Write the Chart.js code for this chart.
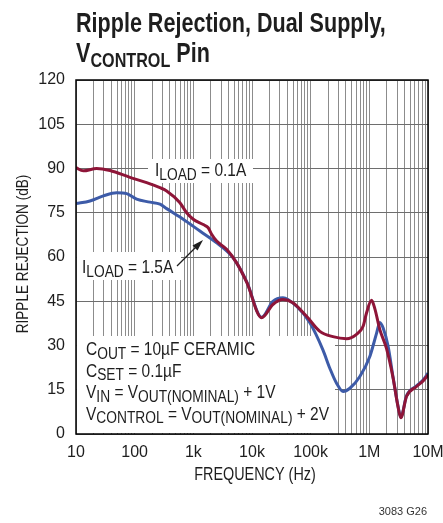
<!DOCTYPE html>
<html>
<head>
<meta charset="utf-8">
<title>Ripple Rejection, Dual Supply, VCONTROL Pin</title>
<script src="https://cdn.jsdelivr.net/npm/chart.js@4.4.1/dist/chart.umd.min.js"></script>
<style>
  html, body { margin: 0; padding: 0; background: #fff; }
  canvas { display: block; }
</style>
</head>
<body>
<canvas id="ripple" width="443" height="523"></canvas>
<script>
// I_LOAD = 0.1A
const freq01 = [10, 13.3, 22.5, 38, 83, 160, 270, 351, 591, 769, 996, 1475, 1795, 2050, 2496, 3692, 5470, 8180,
  14580, 22700, 33600, 49700, 85200, 143500, 239000, 409000, 605000, 783000, 895000, 1090000, 1240000,
  1510000, 1960000, 2540000, 3100000, 3440000, 4300000, 6370000, 8260000, 10000000]
const db01 = [90.3, 89.2, 90.0, 89.3, 87.0, 85.2, 83.5, 82.4, 78.4, 75.0, 72.8, 71.0, 69.9, 67.7, 65.4, 62.6, 58.0, 51.3,
  39.4, 43.9, 45.6, 44.5, 39.9, 34.8, 33.0, 32.3, 33.8, 36.5, 41.0, 45.3, 42.5,
  35.4, 29.0, 19.0, 9.0, 5.5, 12.7, 16.1, 18.0, 20.0]

// I_LOAD = 1.5A
const freq15 = [10, 17.3, 29.2, 49.3, 73, 108, 182, 270, 351, 673, 1294, 2496, 4200, 5470, 8180,
  14580, 22700, 33600, 57500, 96900, 161000, 212000, 276000, 358000, 466000, 689000, 1020000, 1330000,
  1510000, 1720000, 2090000, 2540000, 3100000, 3440000, 4300000, 6370000, 8260000, 10000000]
const db15 = [78.1, 79.0, 80.7, 81.8, 81.5, 79.6, 78.6, 77.9, 76.4, 72.8, 68.8, 64.8, 61.0, 58.0, 51.5,
  39.6, 45.0, 46.2, 43.3, 37.7, 28.6, 22.3, 17.2, 14.4, 15.5, 19.5, 26.3, 34.2,
  37.8, 35.9, 29.7, 19.2, 9.2, 5.7, 12.9, 16.3, 18.3, 20.6]

// axis ticks
const yTicks = [0, 15, 30, 45, 60, 75, 90, 105, 120]
const decades = [10, 100, 1e3, 1e4, 1e5, 1e6, 1e7]
const decadeLabels = ["10", "100", "1k", "10k", "100k", "1M", "10M"]

const FONT = '"Liberation Sans", Arial, sans-serif'
const RED = "#8e1538"
const BLUE = "#3d5ba8"
const INK = "#1e1e1e"

const toPoints = (xs, ys) => xs.map((x, i) => ({ x: x, y: ys[i] }))

// condensed text with subscript runs: parts = [[text, isSub], ...]
function drawRich(ctx, x, y, parts, size, subSize, sx, bold) {
  const weight = bold ? "bold " : ""
  ctx.save()
  ctx.translate(x, y)
  ctx.scale(sx, 1)
  let cx = 0
  parts.forEach(([txt, isSub]) => {
    ctx.font = weight + (isSub ? subSize : size) + "px " + FONT
    ctx.fillText(txt, cx, isSub ? subSize * 0.22 : 0)
    cx += ctx.measureText(txt).width
  })
  ctx.restore()
}

const notes = {
  id: "notes",
  beforeDatasetsDraw(chart) {
    // white panels behind the labels hide the grid
    const ctx = chart.ctx
    ctx.save()
    ctx.fillStyle = "#fff"
    ctx.fillRect(148, 159, 105, 24)
    ctx.fillRect(77, 252, 104, 28)
    ctx.fillRect(77, 336, 258, 97)
    ctx.restore()
  },
  afterDatasetsDraw(chart) {
    const ctx = chart.ctx
    const a = chart.chartArea
    ctx.save()
    ctx.strokeStyle = "#000"
    ctx.lineWidth = 1.5
    ctx.strokeRect(a.left, a.top, a.right - a.left, a.bottom - a.top)

    ctx.fillStyle = INK
    ctx.strokeStyle = INK
    ctx.textBaseline = "alphabetic"
    ctx.textAlign = "left"
    drawRich(ctx, 155, 176, [["I"], ["LOAD", true], [" = 0.1A"]], 18, 16, 0.86)
    drawRich(ctx, 82, 273, [["I"], ["LOAD", true], [" = 1.5A"]], 18, 16, 0.86)

    // arrow to the 1.5A curve
    ctx.lineWidth = 1.2
    ctx.beginPath()
    ctx.moveTo(177, 266)
    ctx.lineTo(197, 246)
    ctx.stroke()
    ctx.beginPath()
    ctx.moveTo(203, 240)
    ctx.lineTo(192.5, 245.5)
    ctx.lineTo(197.5, 250.5)
    ctx.closePath()
    ctx.fill()

    const lines = [
      [["C"], ["OUT", true], [" = 10µF CERAMIC"]],
      [["C"], ["SET", true], [" = 0.1µF"]],
      [["V"], ["IN", true], [" = V"], ["OUT(NOMINAL)", true], [" + 1V"]],
      [["V"], ["CONTROL", true], [" = V"], ["OUT(NOMINAL)", true], [" + 2V"]],
    ]
    lines.forEach((parts, i) => drawRich(ctx, 86, 355 + i * 21.6, parts, 18, 16, 0.86))
    ctx.restore()
  },
  afterDraw(chart) {
    const ctx = chart.ctx
    ctx.save()
    ctx.fillStyle = INK
    ctx.textBaseline = "alphabetic"
    ctx.textAlign = "left"
    drawRich(ctx, 76, 32, [["Ripple Rejection, Dual Supply,"]], 28, 21, 0.77, true)
    drawRich(ctx, 76, 62, [["V"], ["CONTROL", true], [" Pin"]], 28, 21, 0.77, true)

    // axis titles
    ctx.font = "18px " + FONT
    ctx.textAlign = "center"
    ctx.save()
    ctx.translate(255, 480)
    ctx.scale(0.8, 1)
    ctx.fillText("FREQUENCY (Hz)", 0, 0)
    ctx.restore()
    ctx.save()
    ctx.font = "17px " + FONT
    ctx.translate(28, 254)
    ctx.rotate(-Math.PI / 2)
    ctx.scale(0.8, 1)
    ctx.fillText("RIPPLE REJECTION (dB)", 0, 0)
    ctx.restore()

    ctx.fillStyle = "#333"
    ctx.font = "11px " + FONT
    ctx.textAlign = "right"
    ctx.fillText("3083 G26", 427, 515)
    ctx.restore()
  },
}

new Chart(document.getElementById("ripple"), {
  type: "line",
  data: {
    datasets: [
      {
        label: "ILOAD = 0.1A",
        data: toPoints(freq01, db01),
        borderColor: RED,
        borderWidth: 3,
        pointRadius: 0,
        cubicInterpolationMode: "monotone",
        order: 0,
      },
      {
        label: "ILOAD = 1.5A",
        data: toPoints(freq15, db15),
        borderColor: BLUE,
        borderWidth: 3,
        pointRadius: 0,
        cubicInterpolationMode: "monotone",
        order: 1,
      },
    ],
  },
  options: {
    responsive: false,
    devicePixelRatio: 1,
    animation: false,
    layout: { padding: { top: 80, right: 15, left: 0, bottom: 0 } },
    plugins: {
      legend: { display: false },
      tooltip: { enabled: false },
    },
    scales: {
      x: {
        type: "logarithmic",
        min: 10,
        max: 1e7,
        afterFit: (scale) => {
          scale.height = 89
          scale.paddingLeft = 0
          scale.paddingRight = 0
        },
        afterBuildTicks: (scale) => {
          const ticks = []
          decades.forEach((d) => {
            for (let m = 1; m <= 9; m++) {
              if (d * m <= 1e7) ticks.push({ value: d * m })
            }
          })
          scale.ticks = ticks
        },
        ticks: {
          autoSkip: false,
          maxRotation: 0,
          padding: 9,
          color: INK,
          font: { family: FONT, size: 16 },
          callback: (value) => {
            const i = decades.indexOf(value)
            return i >= 0 ? decadeLabels[i] : ""
          },
        },
        grid: { color: "#8c8c8c", lineWidth: 1, drawTicks: false },
        border: { display: false },
      },
      y: {
        min: 0,
        max: 120,
        afterFit: (scale) => { scale.width = 76 },
        afterBuildTicks: (scale) => {
          scale.ticks = yTicks.map((v) => ({ value: v }))
        },
        ticks: {
          padding: 11,
          color: INK,
          font: { family: FONT, size: 16 },
        },
        grid: { color: "#6e6e6e", lineWidth: 1, drawTicks: false },
        border: { display: false },
      },
    },
  },
  plugins: [notes],
})
</script>
</body>
</html>
